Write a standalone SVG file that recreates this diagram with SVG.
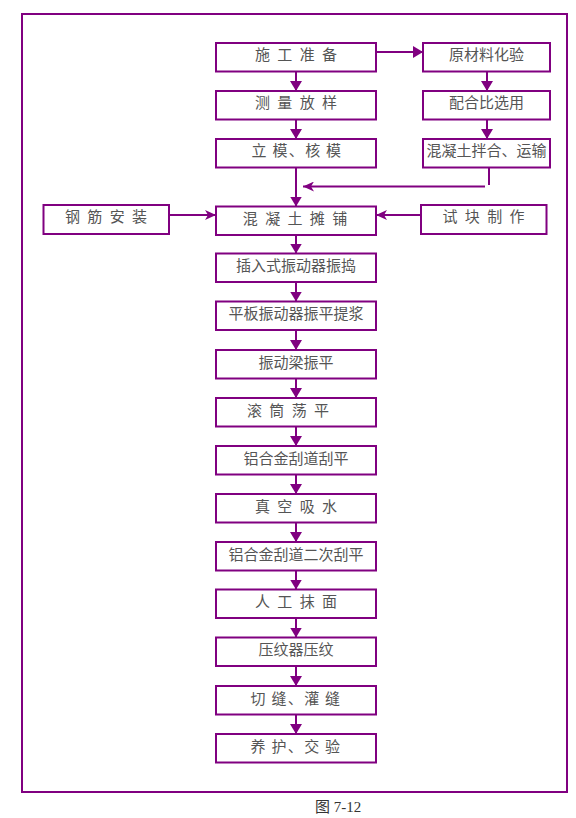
<svg xmlns="http://www.w3.org/2000/svg" width="576" height="818" viewBox="0 0 576 818">
<style>
.box{fill:#fff;stroke:#800080;stroke-width:2}
.ln{fill:none;stroke:#800080;stroke-width:2}
.t{font-family:"Noto Sans CJK SC","Noto Sans",sans-serif;font-size:15px;fill:#555;text-anchor:middle}
.sp{letter-spacing:2px}
.sc{letter-spacing:1.3px}
.cap{font-family:"Liberation Serif","Noto Sans CJK SC",serif;font-size:15px;fill:#333}
</style>
<defs>
<marker id="tri" viewBox="0 0 10 12" refX="10" refY="6" markerWidth="10" markerHeight="12" markerUnits="userSpaceOnUse" orient="auto">
<path d="M0,0 L10,6 L0,12 z" fill="#800080"/>
</marker>
<marker id="barb" viewBox="0 0 11 10" refX="11" refY="5" markerWidth="11" markerHeight="10" markerUnits="userSpaceOnUse" orient="auto">
<path d="M0,0 L11,5 L0,10 L3,5 z" fill="#800080"/>
</marker>
</defs>
<rect x="22" y="14" width="545" height="778" fill="none" stroke="#800080" stroke-width="2"/>
<g id="connectors">
<line class="ln" x1="377" y1="52" x2="423" y2="52" marker-end="url(#tri)"/>
<line class="ln" x1="296" y1="71.5" x2="296" y2="91" marker-end="url(#tri)"/>
<line class="ln" x1="296" y1="119.5" x2="296" y2="139" marker-end="url(#tri)"/>
<line class="ln" x1="296" y1="167.5" x2="296" y2="206.5" marker-end="url(#tri)"/>
<line class="ln" x1="487" y1="71.5" x2="487" y2="91" marker-end="url(#tri)"/>
<line class="ln" x1="487" y1="119.5" x2="487" y2="139" marker-end="url(#tri)"/>
<line class="ln" x1="489" y1="167.5" x2="489" y2="185"/>
<line class="ln" x1="485" y1="186.5" x2="303" y2="186.5" marker-end="url(#barb)"/>
<line class="ln" x1="169" y1="215" x2="216" y2="215" marker-end="url(#barb)"/>
<line class="ln" x1="421" y1="215" x2="376" y2="215" marker-end="url(#barb)"/>
<line class="ln" x1="296" y1="235" x2="296" y2="253.5" marker-end="url(#tri)"/>
<line class="ln" x1="296" y1="282" x2="296" y2="301.5" marker-end="url(#tri)"/>
<line class="ln" x1="296" y1="330" x2="296" y2="350" marker-end="url(#tri)"/>
<line class="ln" x1="296" y1="378.5" x2="296" y2="398" marker-end="url(#tri)"/>
<line class="ln" x1="296" y1="426.5" x2="296" y2="446" marker-end="url(#tri)"/>
<line class="ln" x1="296" y1="474.5" x2="296" y2="494" marker-end="url(#tri)"/>
<line class="ln" x1="296" y1="522.5" x2="296" y2="542" marker-end="url(#tri)"/>
<line class="ln" x1="296" y1="570.5" x2="296" y2="589.5" marker-end="url(#tri)"/>
<line class="ln" x1="296" y1="618" x2="296" y2="637.5" marker-end="url(#tri)"/>
<line class="ln" x1="296" y1="666" x2="296" y2="686" marker-end="url(#tri)"/>
<line class="ln" x1="296" y1="714.5" x2="296" y2="734" marker-end="url(#tri)"/>
</g>
<g id="n1"><rect class="box" x="216" y="43" width="160" height="28.5"/><text class="t sp" x="297" y="60">施 工 准 备</text></g>
<g id="n2"><rect class="box" x="216" y="91" width="160" height="28.5"/><text class="t sp" x="297" y="108">测 量 放 样</text></g>
<g id="n3"><rect class="box" x="216" y="139" width="160" height="28.5"/><text class="t sc" x="297" y="156">立 模、核 模</text></g>
<g id="r1"><rect class="box" x="423" y="43" width="127" height="28.5"/><text class="t" x="486.5" y="60">原材料化验</text></g>
<g id="r2"><rect class="box" x="423" y="91" width="127" height="28.5"/><text class="t" x="486.5" y="108">配合比选用</text></g>
<g id="r3"><rect class="box" x="423" y="139" width="127" height="28.5"/><text class="t" x="486.5" y="156">混凝土拌合、运输</text></g>
<g id="l4"><rect class="box" x="43.5" y="205" width="125.5" height="29"/><text class="t sp" x="107" y="222">钢 筋 安 装</text></g>
<g id="n4"><rect class="box" x="216" y="206.5" width="160" height="28.5"/><text class="t sp" x="296" y="223.5">混 凝 土 摊 铺</text></g>
<g id="r4"><rect class="box" x="421" y="205" width="125.5" height="29"/><text class="t sp" x="484.5" y="222">试 块 制 作</text></g>
<g id="n5"><rect class="box" x="216" y="253.5" width="160" height="28.5"/><text class="t" x="296" y="271">插入式振动器振捣</text></g>
<g id="n6"><rect class="box" x="216" y="301.5" width="160" height="28.5"/><text class="t" x="296" y="319">平板振动器振平提浆</text></g>
<g id="n7"><rect class="box" x="216" y="350" width="160" height="28.5"/><text class="t" x="296" y="367.5">振动梁振平</text></g>
<g id="n8"><rect class="box" x="216" y="398" width="160" height="28.5"/><text class="t sp" x="289" y="415.5">滚 筒 荡 平</text></g>
<g id="n9"><rect class="box" x="216" y="446" width="160" height="28.5"/><text class="t" x="296" y="463.5">铝合金刮道刮平</text></g>
<g id="n10"><rect class="box" x="216" y="494" width="160" height="28.5"/><text class="t sp" x="297" y="511.5">真 空 吸 水</text></g>
<g id="n11"><rect class="box" x="216" y="542" width="160" height="28.5"/><text class="t" x="296" y="559.5">铝合金刮道二次刮平</text></g>
<g id="n12"><rect class="box" x="216" y="589.5" width="160" height="28.5"/><text class="t sp" x="297" y="607">人 工 抹 面</text></g>
<g id="n13"><rect class="box" x="216" y="637.5" width="160" height="28.5"/><text class="t" x="296" y="655">压纹器压纹</text></g>
<g id="n14"><rect class="box" x="216" y="686" width="160" height="28.5"/><text class="t sc" x="296" y="703.5">切 缝、灌 缝</text></g>
<g id="n15"><rect class="box" x="216" y="734" width="160" height="28.5"/><text class="t sc" x="296" y="751.5">养 护、交 验</text></g>
<text class="cap" x="315" y="812">图 7-12</text>
</svg>
